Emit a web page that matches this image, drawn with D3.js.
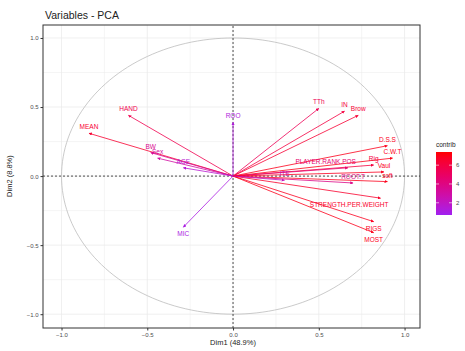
<!DOCTYPE html>
<html>
<head>
<meta charset="utf-8">
<script src="https://cdn.jsdelivr.net/npm/d3@7"></script>
<style>
  body { margin: 0; background: #fff; }
  text { font-family: "Liberation Sans", Arial, sans-serif; }
</style>
</head>
<body>
<svg id="chart" width="465" height="351"></svg>
<script>
// variables of the PCA and their coordinates on Dim1 / Dim2
var varNames = ["MEAN", "HAND", "BW", "Sex", "AGE", "ROO", "MIC", "TTh", "IN", "Brow",
  "D.S.S", "C.W.T", "Rig", "PLAYER.RANK.POS", "Vaul", "soft", "ROOT.T",
  "STRENGTH.PER.WEIGHT", "RIGS", "MOST", "ITE"];
var dim1 = [-0.84, -0.61, -0.48, -0.44, -0.29, 0.00, -0.29, 0.50, 0.65, 0.73,
  0.90, 0.93, 0.82, 0.67, 0.88, 0.90, 0.70, 0.86, 0.82, 0.82, 0.30];
var dim2 = [0.31, 0.44, 0.17, 0.13, 0.06, 0.39, -0.37, 0.49, 0.47, 0.44,
  0.22, 0.13, 0.08, 0.06, 0.03, -0.04, -0.05, -0.16, -0.33, -0.41, -0.03];
var contrib = [6.5, 5.6, 3.6, 3.0, 1.6, 1.3, 1.1, 5.4, 6.0, 6.4,
  7.0, 7.1, 6.1, 4.6, 6.9, 7.0, 3.8, 6.6, 6.9, 7.0, 2.2];
var ticks = [-1.0, -0.5, 0.0, 0.5, 1.0];
var legendTicks = [2, 4, 6];

var svg = d3.select("#chart");
var margin = { top: 25, right: 45, bottom: 23, left: 43 };
var width = 465, height = 351;

var x = d3.scaleLinear().domain([-1.108, 1.09]).range([margin.left, width - margin.right]);
var y = d3.scaleLinear().domain([-1.10, 1.094]).range([height - margin.bottom, margin.top]);
var color = d3.scaleLinear().domain([0.7, 7.4]).range(["#A020F0", "#FF0000"]).interpolate(d3.interpolateLab);

svg.append("text").attr("x", 45).attr("y", 19)
  .style("font-size", "10.5px").style("fill", "#222").text("Variables - PCA");

var panel = svg.append("g");

// grid, major and minor
var minor = [-0.75, -0.25, 0.25, 0.75];
panel.selectAll(".gx").data(ticks.concat(minor)).enter().append("line")
  .attr("x1", d => x(d)).attr("x2", d => x(d))
  .attr("y1", y.range()[0]).attr("y2", y.range()[1])
  .style("stroke", "#ebebeb").style("stroke-width", d => minor.includes(d) ? 0.5 : 0.8);
panel.selectAll(".gy").data(ticks.concat(minor)).enter().append("line")
  .attr("y1", d => y(d)).attr("y2", d => y(d))
  .attr("x1", x.range()[0]).attr("x2", x.range()[1])
  .style("stroke", "#ebebeb").style("stroke-width", d => minor.includes(d) ? 0.5 : 0.8);

// correlation circle
var circ = d3.range(0, 361, 2).map(a => [Math.cos(a * Math.PI / 180), Math.sin(a * Math.PI / 180)]);
panel.append("path")
  .attr("d", d3.line().x(d => x(d[0])).y(d => y(d[1]))(circ))
  .style("fill", "none").style("stroke", "#bdbdbd").style("stroke-width", 0.8);

// dashed axes lines
panel.append("line").attr("x1", x(0)).attr("x2", x(0))
  .attr("y1", y.range()[0]).attr("y2", y.range()[1])
  .style("stroke", "#222").style("stroke-dasharray", "2,2").style("stroke-width", 0.8);
panel.append("line").attr("y1", y(0)).attr("y2", y(0))
  .attr("x1", x.range()[0]).attr("x2", x.range()[1])
  .style("stroke", "#222").style("stroke-dasharray", "2,2").style("stroke-width", 0.8);

var data = varNames.map((n, i) => ({ name: n, d1: dim1[i], d2: dim2[i], c: contrib[i] }));

var defs = svg.append("defs");
data.forEach((d, i) => {
  defs.append("marker").attr("id", "ah" + i)
    .attr("viewBox", "0 0 10 10").attr("refX", 9).attr("refY", 5)
    .attr("markerWidth", 4).attr("markerHeight", 4).attr("orient", "auto")
    .append("path").attr("d", "M0,0 L10,5 L0,10 z").style("fill", color(d.c));
});

panel.selectAll(".arrow").data(data).enter().append("line")
  .attr("class", "arrow")
  .attr("x1", x(0)).attr("y1", y(0))
  .attr("x2", d => x(d.d1)).attr("y2", d => y(d.d2))
  .attr("marker-end", (d, i) => "url(#ah" + i + ")")
  .style("stroke", d => color(d.c)).style("stroke-width", 0.8);

// long names sit to the left of the arrow tip, short ones centred on it
panel.selectAll(".lab").data(data).enter().append("text")
  .attr("x", d => d.name.length > 8 ? x(d.d1) + 8 : x(d.d1))
  .attr("y", d => y(d.d2) + (d.d2 < -0.1 ? 9 : -4))
  .attr("text-anchor", d => d.name.length > 8 ? "end" : "middle")
  .style("font-size", "6.5px")
  .style("fill", d => color(d.c))
  .text(d => d.name);

// panel border
svg.append("rect").attr("x", margin.left).attr("y", margin.top)
  .attr("width", width - margin.left - margin.right)
  .attr("height", height - margin.top - margin.bottom)
  .style("fill", "none").style("stroke", "#333").style("stroke-width", 1);

// axes
var xAxis = svg.append("g").attr("transform", "translate(0," + (height - margin.bottom) + ")")
  .call(d3.axisBottom(x).tickValues(ticks).tickFormat(d3.format(".1f")).tickSize(2.5).tickPadding(2));
var yAxis = svg.append("g").attr("transform", "translate(" + margin.left + ",0)")
  .call(d3.axisLeft(y).tickValues(ticks).tickFormat(d3.format(".1f")).tickSize(2.5).tickPadding(2));
[xAxis, yAxis].forEach(a => {
  a.select(".domain").remove();
  a.selectAll("line").style("stroke", "#333");
  a.selectAll("text").style("font-size", "6px").style("fill", "#4d4d4d");
});

svg.append("text").attr("x", x(0)).attr("y", 345).attr("text-anchor", "middle")
  .style("font-size", "7.5px").style("fill", "#222").text("Dim1 (48.9%)");
svg.append("text").attr("transform", "translate(12," + y(0) + ") rotate(-90)")
  .attr("text-anchor", "middle")
  .style("font-size", "7.5px").style("fill", "#222").text("Dim2 (8.8%)");

// colour legend
var lg = svg.append("g").attr("transform", "translate(436,0)");
lg.append("text").attr("x", 0).attr("y", 147).style("font-size", "6.5px").style("fill", "#222").text("contrib");
var grad = defs.append("linearGradient").attr("id", "lgrad")
  .attr("x1", 0).attr("x2", 0).attr("y1", 1).attr("y2", 0);
d3.range(0, 1.01, 0.1).forEach(t => {
  grad.append("stop").attr("offset", t).attr("stop-color", color(0.7 + t * 6.7));
});
var ly = d3.scaleLinear().domain([0.7, 7.4]).range([215, 152]);
lg.append("rect").attr("x", 0).attr("y", 152).attr("width", 16).attr("height", 63)
  .style("fill", "url(#lgrad)");
lg.selectAll(".lt").data(legendTicks).enter().append("line")
  .attr("x1", 0).attr("x2", 3).attr("y1", d => ly(d)).attr("y2", d => ly(d))
  .style("stroke", "#fff").style("stroke-width", 0.6);
lg.selectAll(".lt2").data(legendTicks).enter().append("line")
  .attr("x1", 13).attr("x2", 16).attr("y1", d => ly(d)).attr("y2", d => ly(d))
  .style("stroke", "#fff").style("stroke-width", 0.6);
lg.selectAll(".ltx").data(legendTicks).enter().append("text")
  .attr("x", 20).attr("y", d => ly(d) + 2)
  .style("font-size", "6px").style("fill", "#4d4d4d").text(d => d);
</script>
</body>
</html>
